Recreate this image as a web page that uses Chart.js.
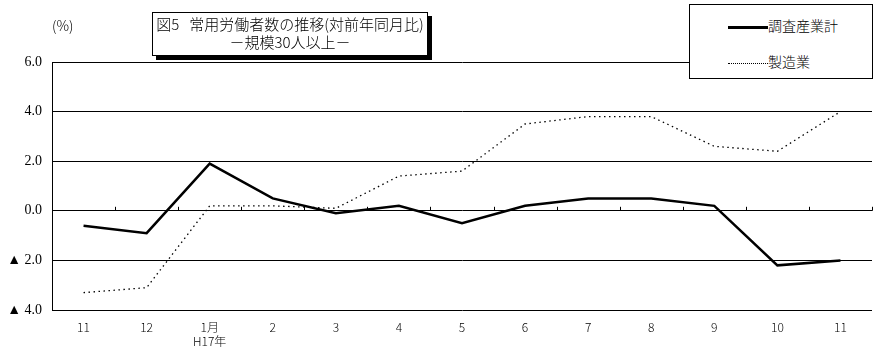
<!DOCTYPE html>
<html>
<head>
<meta charset="utf-8">
<script src="https://cdn.jsdelivr.net/npm/chart.js@4"></script>
<style>
  body { margin: 0; background: #fff; }
  #wrap { position: relative; width: 880px; height: 360px; font-family: "Noto Sans CJK JP", sans-serif; }
  #unit { position: absolute; left: 52px; top: 15px; font-size: 14px; font-weight: 300; }
  #title {
    position: absolute; left: 152px; top: 12px; width: 274px; height: 40px;
    border: 1px solid #000; background: #fff; box-shadow: 4px 4px 0 #000;
    text-align: center; font-size: 15px; line-height: 18px; padding-top: 2px; font-weight: 300;
  }
  #legend {
    position: absolute; left: 689px; top: 4px; width: 182px; height: 73px;
    border: 1px solid #000; background: #fff; font-size: 14px; font-weight: 300;
  }
  .item { position: absolute; left: 38px; height: 20px; line-height: 20px; }
  .swatch { display: inline-block; width: 40px; vertical-align: middle; margin-right: 0; }
</style>
</head>
<body>
<div id="wrap">
  <canvas id="chart" width="880" height="360"></canvas>
  <div id="unit">(%)</div>
  <div id="title">図5&nbsp;&nbsp;&nbsp;常用労働者数の推移(対前年同月比)<br>－規模30人以上－</div>
  <div id="legend"></div>
</div>
<script>
const ctx = document.getElementById('chart').getContext("2d");

const months = ['11', '12', ['1月', 'H17年'], '2', '3', '4', '5', '6', '7', '8', '9', '10', '11'];
const all_industries = [-0.6, -0.9, 1.9, 0.5, -0.1, 0.2, -0.5, 0.2, 0.5, 0.5, 0.2, -2.2, -2.0];
const manufacturing = [-3.3, -3.1, 0.2, 0.2, 0.1, 1.4, 1.6, 3.5, 3.8, 3.8, 2.6, 2.4, 4.0];
const y_min = -4;
const y_max = 6;
const y_step = 2;

// small tick marks on the zero line, between categories
const zeroTicks = {
    id: 'zeroTicks',
    beforeDatasetsDraw(chart) {
        const x = chart.scales.x;
        const y0 = chart.scales.y.getPixelForValue(0);
        const c = chart.ctx;
        c.save();
        c.strokeStyle = '#000';
        c.lineWidth = 1;
        c.beginPath();
        for (let i = 1; i <= months.length; i++) {
            let px;
            if (i < months.length) {
                px = (x.getPixelForValue(i - 1) + x.getPixelForValue(i)) / 2;
            } else {
                px = x.right - 0.5;
            }
            px = Math.round(px) + 0.5;
            c.moveTo(px, y0);
            c.lineTo(px, y0 - 4);
        }
        c.stroke();
        c.restore();
    }
};

const data = {
    labels: months,
    datasets: [{
        label: "調査産業計",
        data: all_industries,
        borderColor: "#000",
        borderWidth: 2.5,
        pointRadius: 0,
        tension: 0,
    },
    {
        label: "製造業",
        data: manufacturing,
        borderColor: "#000",
        borderWidth: 1.3,
        borderDash: [1.5, 3.5],
        pointRadius: 0,
        tension: 0,
    }]
};

const chart = new Chart(ctx, {
    type: 'line',
    data: data,
    options: {
        responsive: false,
        animation: false,
        layout: { padding: { top: 62, right: 8, left: 0, bottom: 0 } },
        plugins: {
            legend: { display: false },
            title: { display: false },
            tooltip: { enabled: false },
        },
        scales: {
            x: {
                offset: true,
                grid: { display: false, drawTicks: false },
                border: { display: false },
                ticks: {
                    color: '#000',
                    font: { family: '"Noto Sans CJK JP", sans-serif', size: 12, weight: 300 },
                    padding: 10,
                    maxRotation: 0,
                    autoSkip: false,
                },
                afterFit: (scale) => { scale.height = 50; },
            },
            y: {
                min: y_min,
                max: y_max,
                grid: { color: '#000', lineWidth: 1, drawTicks: false },
                border: { color: '#000', width: 1 },
                ticks: {
                    stepSize: y_step,
                    color: '#000',
                    padding: 10,
                    font: { family: '"Liberation Serif", "Noto Sans CJK JP", serif', size: 14 },
                    callback: (v) => v < 0 ? '▲ ' + Math.abs(v).toFixed(1) : v.toFixed(1),
                },
                afterFit: (scale) => { scale.width = 52; },
            }
        }
    },
    plugins: [zeroTicks]
});

// legend built from the datasets
const legendDiv = document.getElementById('legend');
chart.data.datasets.forEach((ds, i) => {
    const item = document.createElement('div');
    item.className = 'item';
    item.style.top = (i === 0 ? 10 : 46) + 'px';
    const sw = document.createElement('span');
    sw.className = 'swatch';
    sw.style.borderTop = i === 0 ? '3px solid #000' : '1px dotted #000';
    item.appendChild(sw);
    item.appendChild(document.createTextNode(ds.label));
    legendDiv.appendChild(item);
});
</script>
</body>
</html>
